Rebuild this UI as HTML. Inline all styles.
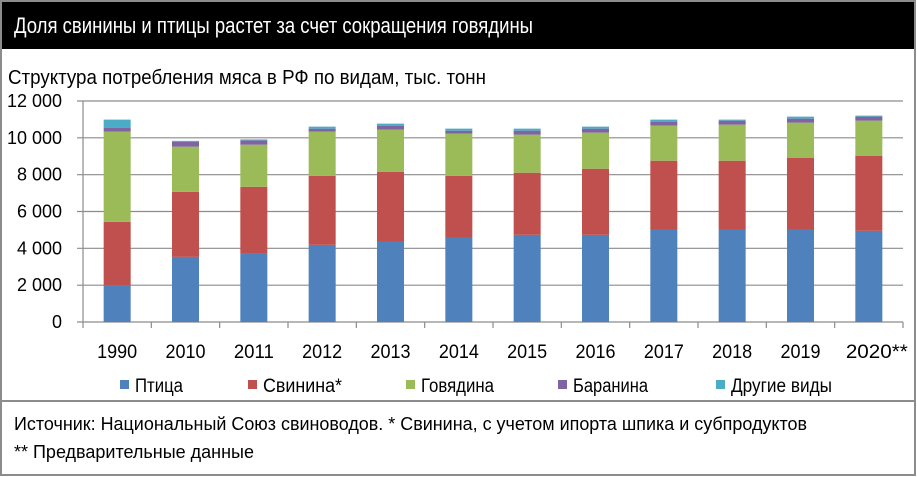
<!DOCTYPE html>
<html><head><meta charset="utf-8"><style>
html,body{margin:0;padding:0;background:#fff;}
svg{display:block;font-family:"Liberation Sans",sans-serif;}
</style></head><body>
<svg id="c" width="917" height="477" viewBox="0 0 917 477" xmlns="http://www.w3.org/2000/svg">
<rect x="1" y="1" width="914" height="474" fill="#fff" stroke="#8c8c8c" stroke-width="2"/>
<rect x="2" y="2" width="912" height="47" fill="#000"/>
<text x="14" y="33" font-size="22" fill="#fff" textLength="519" lengthAdjust="spacingAndGlyphs">Доля свинины и птицы растет за счет сокращения говядины</text>
<text x="8" y="84" font-size="20" fill="#000" textLength="478" lengthAdjust="spacingAndGlyphs">Структура потребления мяса в РФ по видам, тыс. тонн</text>
<g id="grid"></g>
<g id="yt"></g>
<g id="bars"></g>
<g id="xt"></g>
<g id="leg"></g>
<line x1="2" y1="401" x2="914" y2="401" stroke="#8c8c8c" stroke-width="2"/>
<text x="14" y="430" font-size="18" fill="#000" textLength="793" lengthAdjust="spacingAndGlyphs">Источник: Национальный Союз свиноводов. * Свинина, с учетом ипорта шпика и субпродуктов</text>
<text x="14" y="458" font-size="18" fill="#000" textLength="240" lengthAdjust="spacingAndGlyphs">** Предварительные данные</text>
</svg>
<script>
const categories=["1990","2010","2011","2012","2013","2014","2015","2016","2017","2018","2019","2020**"];
const poultry=[1975,3536,3716,4189,4370,4587,4733,4733,5023,5023,5023,4950];
const pork=[3465,3536,3628,3753,3790,3355,3373,3590,3735,3735,3899,4080];
const beef=[4896,2448,2285,2394,2285,2285,2067,1959,1904,1959,1904,1904];
const mutton=[218,256,234,163,217,163,217,217,218,217,217,218];
const other=[435,60,50,109,109,109,109,109,109,55,109,54];
const yTicks=[0,2000,4000,6000,8000,10000,12000];
const yTickLabels=["0","2 000","4 000","6 000","8 000","10 000","12 000"];
const seriesNames=["Птица","Свинина*","Говядина","Баранина","Другие виды"];

const NS="http://www.w3.org/2000/svg";
const colors=["#4f81bd","#c0504d","#9bbb59","#8064a2","#4bacc6"];
const series=[poultry,pork,beef,mutton,other];
const x0=83,x1=903,y0=322,yTop=101,yMax=12000;
const band=(x1-x0)/categories.length,bw=27;
const yS=v=>y0-(v/yMax)*(y0-yTop);
const xC=i=>x0+band*(i+0.5);
function mk(tag,attrs,parent){const e=document.createElementNS(NS,tag);for(const k in attrs)e.setAttribute(k,attrs[k]);parent.appendChild(e);return e;}
const grid=document.getElementById('grid'),yt=document.getElementById('yt'),bars=document.getElementById('bars'),xt=document.getElementById('xt'),leg=document.getElementById('leg');
yTicks.forEach((v,i)=>{
 const y=yS(v);
 const l=mk('line',{x1:x0-6,x2:x1,y1:y,y2:y,stroke:'#8c8c8c','stroke-width':1.2},grid);
 
 
 const t=mk('text',{x:62,y:y+6,'font-size':18,'text-anchor':'end',fill:'#000'},yt);
 t.textContent=yTickLabels[i];
 
 
});
const ax=mk('line',{x1:x0,x2:x0,y1:yTop,y2:y0,stroke:'#8c8c8c','stroke-width':1.2},grid);


categories.forEach((c,i)=>{
 let acc=0;
 series.forEach((s,k)=>{
  const yA=yS(acc),yB=yS(acc+s[i]);acc+=s[i];
  const r=mk('rect',{x:xC(i)-bw/2,y:yB,width:bw,height:Math.max(0,yA-yB),fill:colors[k]},bars);
  
  
 });
 const tk=mk('line',{x1:x0+band*(i+1),x2:x0+band*(i+1),y1:y0,y2:y0+6,stroke:'#8c8c8c','stroke-width':1.2},xt);
 
 
 const t=mk('text',{x:xC(i)+(i==11?8:0),y:358,'font-size':19,'text-anchor':'middle',fill:'#000'},xt);
 t.setAttribute('textLength',i==11?62:40);
 t.setAttribute('lengthAdjust','spacingAndGlyphs');
 t.textContent=c;
 
 
});
const t0=mk('line',{x1:x0,x2:x0,y1:y0,y2:y0+6,stroke:'#8c8c8c','stroke-width':1.2},xt);


const legX=[120,248,406,558,716],legW=[48,79,73,75,101];
seriesNames.forEach((n,k)=>{
 const g=mk('g',{},leg);
 
 
 mk('rect',{x:legX[k],y:380,width:9,height:9,fill:colors[k]},g);
 const t=mk('text',{x:legX[k]+15,y:392,'font-size':19,fill:'#000',textLength:legW[k],lengthAdjust:'spacingAndGlyphs'},g);
 t.textContent=n;
});
</script>
</body></html>
